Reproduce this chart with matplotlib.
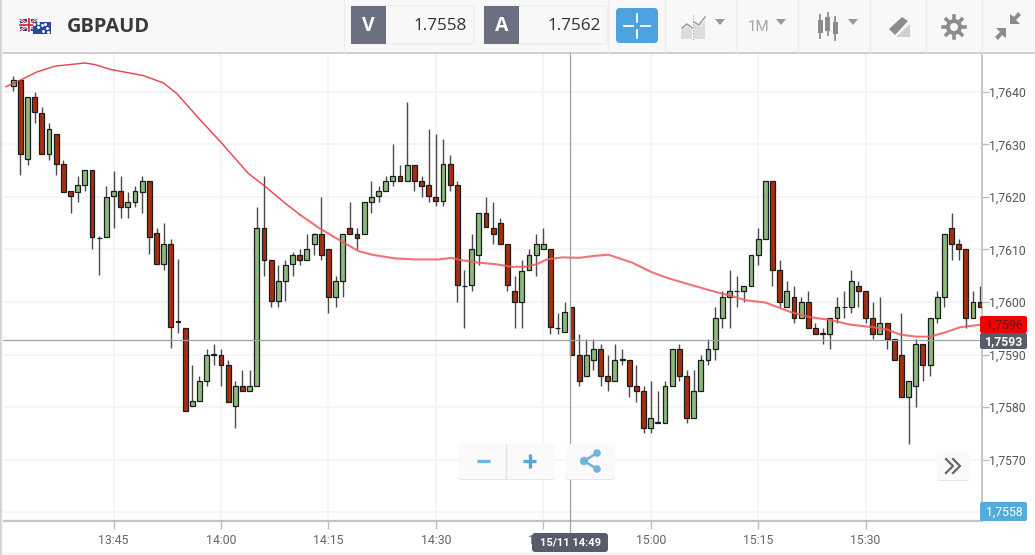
import numpy as np
import matplotlib
matplotlib.use("Agg")
import matplotlib.pyplot as plt
from matplotlib.patches import Rectangle, FancyBboxPatch, Polygon, Circle

plt.rcParams['font.family'] = ['Roboto', 'DejaVu Sans']

# candles, one per minute, x is minutes after 13:45
candle_open = [
    1.76411, 1.76423, 1.76272, 1.76390, 1.76360, 1.76282, 1.76320, 1.76262, 1.76211, 1.76210,
    1.76222, 1.76252, 1.76121, 1.76123, 1.76202, 1.76211, 1.76181, 1.76190, 1.76210, 1.76230,
    1.76131, 1.76072, 1.76110, 1.75962, 1.75950, 1.75802, 1.75812, 1.75850, 1.75900, 1.75900,
    1.75880, 1.75802, 1.75840, 1.75830, 1.75840, 1.76141, 1.76080, 1.76001, 1.76040, 1.76072,
    1.76090, 1.76080, 1.76111, 1.76130, 1.76100, 1.76010, 1.76040, 1.76141, 1.76130, 1.76130,
    1.76191, 1.76202, 1.76211, 1.76231, 1.76240, 1.76231, 1.76261, 1.76230, 1.76222, 1.76200,
    1.76192, 1.76262, 1.76222, 1.76030, 1.76032, 1.76090, 1.76170, 1.76141, 1.76150, 1.76110,
    1.76020, 1.76000, 1.76060, 1.76090, 1.76100, 1.76100, 1.75950, 1.75942, 1.75990, 1.75900,
    1.75860, 1.75890, 1.75910, 1.75860, 1.75850, 1.75890, 1.75890, 1.75840, 1.75830, 1.75760,
    1.75770, 1.75770, 1.75840, 1.75910, 1.75860, 1.75780, 1.75830, 1.75890, 1.75910, 1.75970,
    1.76010, 1.76020, 1.76020, 1.76030, 1.76090, 1.76120, 1.76230, 1.76060, 1.75990, 1.76010,
    1.75970, 1.76000, 1.75950, 1.75940, 1.75940, 1.75970, 1.75990, 1.75990, 1.76030, 1.76020,
    1.75970, 1.75940, 1.75960, 1.75930, 1.75900, 1.75820, 1.75840, 1.75920, 1.75880, 1.75970,
    1.76010, 1.76140, 1.76110, 1.76100, 1.75970, 1.76000]
candle_high = [
    1.76431, 1.76423, 1.76390, 1.76400, 1.76371, 1.76340, 1.76320, 1.76270, 1.76211, 1.76240,
    1.76252, 1.76252, 1.76125, 1.76221, 1.76250, 1.76240, 1.76210, 1.76221, 1.76240, 1.76230,
    1.76140, 1.76150, 1.76120, 1.76081, 1.75950, 1.75880, 1.75860, 1.75910, 1.75920, 1.75910,
    1.75890, 1.75850, 1.75870, 1.75870, 1.76180, 1.76240, 1.76080, 1.76070, 1.76080, 1.76095,
    1.76100, 1.76130, 1.76132, 1.76200, 1.76100, 1.76050, 1.76130, 1.76190, 1.76140, 1.76190,
    1.76231, 1.76220, 1.76240, 1.76300, 1.76260, 1.76380, 1.76261, 1.76240, 1.76330, 1.76320,
    1.76310, 1.76280, 1.76231, 1.76060, 1.76130, 1.76170, 1.76200, 1.76191, 1.76160, 1.76110,
    1.76050, 1.76080, 1.76100, 1.76130, 1.76140, 1.76100, 1.75980, 1.76000, 1.75990, 1.75940,
    1.75930, 1.75930, 1.75920, 1.75900, 1.75920, 1.75910, 1.75890, 1.75880, 1.75840, 1.75850,
    1.75830, 1.75850, 1.75910, 1.75920, 1.75870, 1.75870, 1.75900, 1.75930, 1.75990, 1.76020,
    1.76060, 1.76050, 1.76030, 1.76090, 1.76140, 1.76230, 1.76230, 1.76080, 1.76040, 1.76030,
    1.76010, 1.76020, 1.75960, 1.75950, 1.75970, 1.76010, 1.76020, 1.76060, 1.76040, 1.76020,
    1.76000, 1.76010, 1.75960, 1.75930, 1.75980, 1.75850, 1.75930, 1.75920, 1.75970, 1.76020,
    1.76130, 1.76170, 1.76120, 1.76100, 1.76020, 1.76030]
candle_low = [
    1.76401, 1.76242, 1.76261, 1.76340, 1.76282, 1.76270, 1.76242, 1.76210, 1.76170, 1.76190,
    1.76211, 1.76100, 1.76051, 1.76123, 1.76140, 1.76160, 1.76160, 1.76181, 1.76170, 1.76091,
    1.76072, 1.76061, 1.75912, 1.75941, 1.75793, 1.75802, 1.75812, 1.75840, 1.75880, 1.75840,
    1.75810, 1.75760, 1.75830, 1.75830, 1.75840, 1.76050, 1.75990, 1.75990, 1.76001, 1.76050,
    1.76070, 1.76080, 1.76090, 1.76080, 1.75980, 1.75990, 1.76010, 1.76130, 1.76100, 1.76130,
    1.76170, 1.76191, 1.76211, 1.76220, 1.76231, 1.76231, 1.76211, 1.76200, 1.76191, 1.76182,
    1.76182, 1.76211, 1.76000, 1.75950, 1.76020, 1.76070, 1.76142, 1.76110, 1.76111, 1.76020,
    1.75950, 1.75950, 1.76060, 1.76050, 1.76100, 1.75940, 1.75940, 1.75942, 1.75900, 1.75840,
    1.75860, 1.75870, 1.75840, 1.75830, 1.75850, 1.75880, 1.75820, 1.75810, 1.75750, 1.75750,
    1.75770, 1.75770, 1.75840, 1.75850, 1.75770, 1.75780, 1.75830, 1.75880, 1.75890, 1.75950,
    1.75950, 1.75990, 1.76000, 1.76030, 1.76070, 1.76120, 1.76030, 1.75990, 1.75990, 1.75960,
    1.75970, 1.75950, 1.75940, 1.75920, 1.75910, 1.75960, 1.75970, 1.75980, 1.75990, 1.75960,
    1.75930, 1.75940, 1.75910, 1.75890, 1.75820, 1.75730, 1.75800, 1.75850, 1.75860, 1.75960,
    1.75990, 1.76080, 1.76080, 1.75950, 1.75970, 1.75990]
candle_close = [
    1.76422, 1.76282, 1.76390, 1.76362, 1.76282, 1.76330, 1.76262, 1.76210, 1.76202, 1.76222,
    1.76252, 1.76123, 1.76122, 1.76200, 1.76211, 1.76181, 1.76190, 1.76211, 1.76230, 1.76123,
    1.76072, 1.76110, 1.75953, 1.75963, 1.75793, 1.75812, 1.75850, 1.75900, 1.75901, 1.75880,
    1.75810, 1.75840, 1.75830, 1.75840, 1.76141, 1.76080, 1.76001, 1.76040, 1.76070, 1.76090,
    1.76080, 1.76100, 1.76130, 1.76090, 1.76010, 1.76040, 1.76130, 1.76130, 1.76122, 1.76190,
    1.76200, 1.76211, 1.76230, 1.76240, 1.76231, 1.76261, 1.76231, 1.76221, 1.76202, 1.76192,
    1.76262, 1.76222, 1.76032, 1.76031, 1.76100, 1.76170, 1.76142, 1.76130, 1.76111, 1.76032,
    1.76000, 1.76059, 1.76090, 1.76110, 1.76110, 1.75952, 1.75951, 1.75980, 1.75900, 1.75850,
    1.75900, 1.75910, 1.75860, 1.75850, 1.75890, 1.75891, 1.75840, 1.75830, 1.75760, 1.75780,
    1.75771, 1.75840, 1.75910, 1.75860, 1.75780, 1.75830, 1.75890, 1.75910, 1.75970, 1.76010,
    1.76020, 1.76021, 1.76030, 1.76090, 1.76120, 1.76230, 1.76060, 1.76000, 1.76020, 1.75970,
    1.76000, 1.75950, 1.75940, 1.75941, 1.75970, 1.75990, 1.75991, 1.76040, 1.76020, 1.75970,
    1.75940, 1.75960, 1.75930, 1.75890, 1.75820, 1.75850, 1.75920, 1.75880, 1.75970, 1.76010,
    1.76130, 1.76110, 1.76100, 1.75970, 1.76000, 1.75990]

# moving average read at its bends
ma_minute = [-15.0, -13.05, -10.7, -8.17, -3.98, -2.58, -0.49, 4.16, 6.96, 8.82, 12.08, 14.87,
             18.8, 20.9, 23.7, 26.04, 28.8, 31.4, 34.2, 36.1, 39.3, 42.1, 45.3, 47.2, 48.4,
             50.9, 53.3, 55.6, 57.5, 59.1, 60.5, 62.6, 64.9, 67.3, 69.1, 72.4, 75.1, 77.5,
             80.5, 83.3, 86.1, 88.4, 91.0, 94.5, 97.3, 100.0, 102.8, 106.0, 107.9, 109.8,
             112.1, 114.0, 116.3, 118.2, 121.2]
ma_value = [1.76410, 1.76422, 1.76438, 1.76449, 1.76455, 1.76452, 1.76443, 1.76431, 1.76417,
            1.76397, 1.76347, 1.76306, 1.76245, 1.76223, 1.76191, 1.76166, 1.76140, 1.76119,
            1.76097, 1.76090, 1.76083, 1.76081, 1.76081, 1.76084, 1.76080, 1.76075, 1.76072,
            1.76067, 1.76067, 1.76072, 1.76081, 1.76085, 1.76084, 1.76088, 1.76090, 1.76075,
            1.76057, 1.76045, 1.76033, 1.76022, 1.76012, 1.76003, 1.75999, 1.75981, 1.75971,
            1.75966, 1.75957, 1.75952, 1.75948, 1.75938, 1.75934, 1.75934, 1.75943, 1.75952,
            1.75957]

first_minute = -14
time_ticks = [0, 15, 30, 45, 60, 75, 90, 105]
time_labels = ["13:45", "14:00", "14:15", "14:30", "14:45", "15:00", "15:15", "15:30"]
price_ticks = [1.7560, 1.7570, 1.7580, 1.7590, 1.7600, 1.7610, 1.7620, 1.7630, 1.7640]
cross_minute = 63.77
cross_price = 1.75927

RED = "#a62f10"
GREEN = "#8cb97c"
GREY_ICON = "#8c8c8c"

fig = plt.figure(figsize=(10.35, 5.55), dpi=100, facecolor="white")
ax = fig.add_axes([0, 1 - 520.5 / 555, 982 / 1035, (520.5 - 52.5) / 555])

minutes = first_minute + np.arange(len(candle_open))
opens = np.array(candle_open)
closes = np.array(candle_close)
colors = [GREEN if c >= o else RED for o, c in zip(opens, closes)]

ax.vlines(minutes, candle_low, candle_high, color="#4a4a4a", lw=1.0, zorder=2)
ax.bar(minutes, np.abs(closes - opens), bottom=np.minimum(opens, closes), width=0.68,
       color=colors, edgecolor="#1c1c1c", linewidth=0.9, zorder=3)
# the line gets paler and a bit heavier further right
ax.plot(ma_minute[:16], ma_value[:16], color="#e8323a", lw=1.05, alpha=0.9, zorder=4)
ax.plot(ma_minute[15:], ma_value[15:], color="#f05a5c", lw=1.5, alpha=0.85, zorder=4)
ax.axhline(cross_price, color="#a0a0a0", lw=0.9, zorder=5)
ax.axvline(cross_minute, color="#a0a0a0", lw=0.9, zorder=5)

ax.set_xlim(-15.85, 121.25)
ax.set_ylim(1.75584, 1.76475)
ax.set_xticks(time_ticks)
ax.set_xticklabels(time_labels)
ax.set_yticks(price_ticks)
# 1,7560 sits behind the blue tag in the original, so it stays blank
ax.set_yticklabels(["" if p == 1.7560 else f"{p:.4f}".replace(".", ",") for p in price_ticks])
ax.yaxis.tick_right()
ax.grid(True, color="#f3f3f3", lw=1.1, zorder=0)
ax.set_axisbelow(True)
ax.tick_params(axis="x", length=6, width=1, color="#bdbdbd", labelcolor="#666666",
               labelsize=8.8, pad=3.5)
ax.tick_params(axis="y", length=5, width=1, color="#bdbdbd", labelcolor="#555555",
               labelsize=8.8, pad=0)
for side in ["top", "left"]:
    ax.spines[side].set_visible(False)
ax.spines["right"].set_color("#b8b8b8")
ax.spines["right"].set_linewidth(1.1)
ax.spines["bottom"].set_color("#c4c4c4")
ax.spines["bottom"].set_linewidth(1.6)

# toolbar and buttons drawn in pixel space on top of the chart
ui = fig.add_axes([0, 0, 1, 1], facecolor="none")
ui.set_xlim(0, 1035)
ui.set_ylim(555, 0)
ui.axis("off")


def rect(x0, y0, x1, y1, color, z=2, **kw):
    ui.add_patch(Rectangle((x0, y0), x1 - x0, y1 - y0, facecolor=color, edgecolor="none", zorder=z, **kw))


def rbox(x0, y0, x1, y1, color, edge="none", r=3, z=3):
    ui.add_patch(FancyBboxPatch((x0 + r, y0 + r), x1 - x0 - 2 * r, y1 - y0 - 2 * r,
                                boxstyle=f"round,pad={r}", facecolor=color, edgecolor=edge,
                                linewidth=0.8, zorder=z))


def tri(cx, cy, color="#9a9a9a"):
    ui.add_patch(Polygon([(cx - 5, cy - 3), (cx + 5, cy - 3), (cx, cy + 3)], facecolor=color, zorder=4))


rect(0, 0, 1035, 52, "#f8f8f8")
ui.plot([0, 1035], [52.5, 52.5], color="#c8c8c8", lw=1.2, zorder=3)
ui.plot([0, 1035], [552.5, 552.5], color="#efefef", lw=1, zorder=3)
for i, c in enumerate(["#cfcfcf", "#e2e2e2", "#f0f0f0"]):
    rect(i, 0, i + 1, 555, c, z=8)
for x in [344, 608, 664.5, 736, 797.5, 870, 925.5, 982]:
    ui.plot([x, x], [0, 52], color="#ececec", lw=1, zorder=3)

# flags
rect(20, 19, 37, 31, "#2c3f8e", z=4)
ui.plot([20, 37], [19, 31], color="white", lw=1.8, zorder=4)
ui.plot([20, 37], [31, 19], color="white", lw=1.8, zorder=4)
ui.plot([20, 37], [19, 31], color="#c8343c", lw=0.7, zorder=4)
ui.plot([20, 37], [31, 19], color="#c8343c", lw=0.7, zorder=4)
ui.plot([28.5, 28.5], [19, 31], color="white", lw=2.6, zorder=4)
ui.plot([20, 37], [25, 25], color="white", lw=2.6, zorder=4)
ui.plot([28.5, 28.5], [19, 31], color="#c8343c", lw=1.3, zorder=4)
ui.plot([20, 37], [25, 25], color="#c8343c", lw=1.3, zorder=4)
rect(33, 22, 51, 34, "#2a4aa0", z=5)
ui.plot([34, 38, 38, 42, 45, 47, 43, 48], [24, 23, 27, 25, 24, 28, 31, 32], ls="none", marker="o",
        ms=1.1, color="white", zorder=6)
ui.text(66.5, 26.5, "GBPAUD", fontsize=14.4, fontweight="bold", family=["Open Sans", "DejaVu Sans"],
        color="#3a3a3a", va="center", ha="left", zorder=5)

# bid and ask
rbox(351, 6, 474, 44, "#f8f8f8", edge="#ececec")
rect(351, 6, 386, 44, "#6b7081", z=4)
ui.text(368.5, 26, "V", fontsize=14, fontweight="bold", color="white", ha="center", va="center", zorder=5,
        family=["Open Sans", "DejaVu Sans"])
ui.text(467, 26, "1.7558", fontsize=12.3, color="#333333", ha="right", va="center", zorder=5,
        family=["Open Sans", "DejaVu Sans"])
rbox(484, 6, 607, 44, "#f8f8f8", edge="#ececec")
rect(484, 6, 519, 44, "#6b7081", z=4)
ui.text(501.5, 26, "A", fontsize=14, fontweight="bold", color="white", ha="center", va="center", zorder=5,
        family=["Open Sans", "DejaVu Sans"])
ui.text(601, 26, "1.7562", fontsize=12.3, color="#333333", ha="right", va="center", zorder=5,
        family=["Open Sans", "DejaVu Sans"])

# crosshair button
rbox(616, 8, 658, 43, "#4da3df", r=4)
for xs, ys in [([624, 633], [26, 26]), ([641, 650], [26, 26]), ([637, 637], [14, 22]), ([637, 637], [30, 38])]:
    ui.plot(xs, ys, color="white", lw=1.3, zorder=5)

# area chart icon
ui.add_patch(Polygon([(681, 39), (681, 30), (687, 26), (692, 30), (692, 39)], facecolor="#dcdcdc", zorder=4))
ui.add_patch(Polygon([(694, 39), (694, 24), (700, 27), (705, 20), (705, 39)], facecolor="#dcdcdc", zorder=4))
ui.plot([682, 687, 692], [28, 24, 28], color="#9a9a9a", lw=1.1, zorder=5)
ui.plot([694, 699, 705], [22, 25, 17], color="#9a9a9a", lw=1.1, zorder=5)
ui.plot([693, 693], [15, 41], color="#9a9a9a", lw=0.8, ls=":", zorder=5)
tri(720, 22)
ui.text(759, 27, "1M", fontsize=11, color="#a8a8a8", ha="center", va="center", zorder=5)
tri(781, 22)

# candlestick icon
for x, y0, y1, t0, t1 in [(820, 20, 33, 15, 38), (827.5, 17, 31, 13, 35), (835, 22, 34, 17, 40)]:
    ui.plot([x, x], [t0, t1], color=GREY_ICON, lw=1.3, zorder=4)
    rect(x - 2.5, y0, x + 2.5, y1, GREY_ICON, z=5)
tri(853, 22)

# drawing tool icon
ui.add_patch(Polygon([(886, 37), (910, 37), (910, 24), (896, 37)], facecolor="#cfcfcf", zorder=4))
ui.add_patch(Polygon([(889, 29), (902, 17), (908, 21), (895, 35)], facecolor=GREY_ICON, zorder=5))

# gear
ui.add_patch(Circle((954, 27), 8, facecolor=GREY_ICON, zorder=4))
for a in np.arange(8) * np.pi / 4:
    ui.plot([954, 954 + 11 * np.cos(a)], [27, 27 + 11 * np.sin(a)], color=GREY_ICON, lw=2.6, zorder=4)
ui.add_patch(Circle((954, 27), 4, facecolor="#f8f8f8", zorder=5))

# compress arrows
ui.add_patch(Polygon([(1010, 14), (1010, 24), (1020, 24), (1016, 20), (1021, 15), (1018, 12), (1014, 17)],
                     facecolor=GREY_ICON, zorder=4))
ui.add_patch(Polygon([(1006, 38), (1006, 28), (996, 28), (1000, 32), (995, 37), (998, 40), (1002, 35)],
                     facecolor=GREY_ICON, zorder=4))

# zoom and share buttons
for x0, y0, x1, y1 in [(458, 444, 555, 479), (566, 444, 615, 479), (937, 452, 970, 480)]:
    rbox(x0, y0 + 1, x1, y1 + 1, "#e6e6e6", z=2)
    rbox(x0, y0, x1, y1, "#fafafa", z=3)
ui.plot([505.5, 505.5], [444, 479], color="#e2e2e2", lw=1, zorder=4)
ui.plot([477, 490], [461, 461], color="#72b3dc", lw=2.4, zorder=4, solid_capstyle="butt")
ui.plot([523, 536], [461, 461], color="#5aa6d8", lw=2.4, zorder=4, solid_capstyle="butt")
ui.plot([529.5, 529.5], [454, 468], color="#5aa6d8", lw=2.4, zorder=4, solid_capstyle="butt")
ui.plot([597, 584, 597], [453, 461, 469], color="#6fb4dc", lw=1.8, zorder=4)
for x, y, r in [(597, 453, 3.8), (584, 461, 4.2), (597, 469, 3.8)]:
    ui.add_patch(Circle((x, y), r, facecolor="#6fb4dc", zorder=4))
ui.plot([946, 953, 946], [459, 466, 473], color="#666666", lw=1.6, zorder=4)
ui.plot([953, 960, 953], [459, 466, 473], color="#666666", lw=1.6, zorder=4)

# price and time tags
rbox(980, 316, 1027, 333, "#f40000", r=2, z=6)
ui.text(1004, 325.5, "1,7596", fontsize=8.8, color="#5a1a1a", ha="center", va="center", zorder=7)
rbox(980, 333, 1027, 349, "#585b6a", r=2, z=6)
ui.text(1004, 341.5, "1,7593", fontsize=8.8, fontweight="bold", color="white", ha="center", va="center", zorder=7)
rbox(980, 502, 1027, 521, "#55acdc", r=2, z=6)
ui.text(1004, 512, "1,7558", fontsize=8.8, color="white", ha="center", va="center", zorder=7)
rbox(532, 533, 608, 552, "#585b6a", r=3, z=6)
ui.text(570, 542, "15/11 14:49", fontsize=8, fontweight="bold", color="white", ha="center", va="center", zorder=7)
ui.plot([570.4, 570.4], [520, 533], color="#a0a0a0", lw=0.9, zorder=5)

fig.savefig("out.png", dpi=100)
